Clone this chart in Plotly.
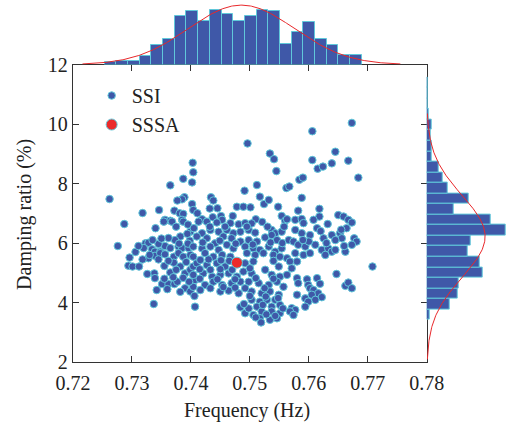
import numpy as np
import plotly.graph_objects as go

# ---------------- data ----------------
# SSI identified modes, upper / sparse region
ssi_freq_upper = [
    0.7262, 0.7673, 0.7606, 0.7496, 0.7534, 0.7541, 0.7545, 0.7645, 0.7606, 0.7615,
    0.7624, 0.7639, 0.7667, 0.7684, 0.7584, 0.7590, 0.7562, 0.7567, 0.7588, 0.7403,
    0.7404, 0.7387, 0.7402, 0.7365, 0.7512, 0.7491, 0.7517, 0.7524, 0.7532, 0.7548,
    0.7434, 0.7438, 0.7432, 0.7445, 0.7389, 0.7385, 0.7377, 0.7402, 0.7346, 0.7318,
    0.7372, 0.7381, 0.7387, 0.7404, 0.7287, 0.7356, 0.7365, 0.7354, 0.7368, 0.7385,
    0.7387, 0.7411, 0.7478, 0.7489, 0.7501, 0.7471, 0.7510, 0.7554, 0.7560, 0.7419,
    0.7427, 0.7437, 0.7451, 0.7453, 0.7444, 0.7467, 0.7481, 0.7492, 0.7582, 0.7618,
    0.7618, 0.7563, 0.7577, 0.7588, 0.7608, 0.7632, 0.7650, 0.7659, 0.7667, 0.7673,
    0.7591, 0.7521]
ssi_damp_upper = [
    7.48, 10.04, 9.76, 9.35, 9.01, 8.82, 8.42, 9.07, 8.79, 8.50,
    8.57, 8.68, 8.77, 8.20, 8.13, 8.20, 7.85, 7.90, 7.52, 8.70,
    8.38, 8.16, 8.04, 7.94, 7.95, 7.76, 7.56, 7.31, 7.45, 7.22,
    7.54, 7.43, 7.16, 7.17, 7.54, 7.47, 7.43, 7.31, 7.11, 7.01,
    7.09, 7.00, 6.98, 7.11, 6.64, 6.78, 6.75, 6.72, 6.72, 6.78,
    6.72, 7.00, 7.22, 7.22, 7.20, 6.91, 6.80, 6.91, 6.75, 6.80,
    6.72, 6.87, 6.91, 6.78, 6.69, 6.67, 6.63, 6.67, 7.09, 7.15,
    6.89, 6.80, 6.78, 6.81, 6.78, 6.64, 6.94, 6.89, 6.78, 6.69,
    6.67, 6.71]

# left cluster
ssi_freq_left = [
    0.7276, 0.7323, 0.7328, 0.7320, 0.7334, 0.7339, 0.7348, 0.7356, 0.7365, 0.7379,
    0.7385, 0.7396, 0.7398, 0.7382, 0.7399, 0.7296, 0.7294, 0.7301, 0.7312, 0.7328,
    0.7339, 0.7348, 0.7356, 0.7371, 0.7379, 0.7387, 0.7399, 0.7404, 0.7371, 0.7382,
    0.7365, 0.7390, 0.7399, 0.7404, 0.7338, 0.7339, 0.7351, 0.7362, 0.7372, 0.7377,
    0.7390, 0.7399, 0.7404, 0.7342, 0.7337, 0.7407, 0.7392, 0.7375, 0.7387, 0.7355,
    0.7326, 0.7394, 0.7373, 0.7362, 0.7345, 0.7306, 0.7311, 0.7406, 0.7382, 0.7407,
    0.7335, 0.7350, 0.7330, 0.7318, 0.7362, 0.7345, 0.7395, 0.7380, 0.7355, 0.7370,
    0.7397, 0.7360, 0.7340, 0.7375, 0.7395, 0.7405]
ssi_damp_left = [
    5.90, 5.99, 6.01, 5.83, 5.79, 5.71, 5.71, 5.90, 5.83, 5.88,
    5.83, 5.83, 6.08, 6.22, 6.38, 5.51, 5.24, 5.21, 5.21, 5.49,
    5.57, 5.66, 5.62, 5.54, 5.66, 5.54, 5.60, 5.54, 5.34, 5.21,
    5.01, 4.98, 5.10, 5.21, 4.98, 4.82, 4.62, 4.62, 4.62, 4.70,
    4.48, 4.37, 4.53, 4.42, 3.95, 3.86, 5.36, 5.10, 4.83, 5.23,
    4.96, 6.31, 6.10, 6.17, 5.97, 5.70, 5.90, 4.22, 4.36, 4.76,
    6.10, 6.15, 5.60, 5.45, 5.40, 5.45, 5.98, 5.98, 4.80, 4.85,
    4.70, 4.45, 6.50, 6.55, 6.62, 6.50]

# central cluster
ssi_freq_center = [
    0.7413, 0.7503,
    0.7419, 0.7433, 0.7447, 0.7461, 0.7472, 0.7484, 0.7498, 0.7509, 0.7537, 0.7543, 0.7554,
    0.7410, 0.7427, 0.7441, 0.7455, 0.7469, 0.7484, 0.7498, 0.7512, 0.7526, 0.7537, 0.7546,
    0.7404, 0.7419, 0.7433, 0.7447, 0.7461, 0.7472, 0.7492, 0.7506, 0.7517, 0.7532, 0.7543, 0.7554,
    0.7424, 0.7438, 0.7453, 0.7467, 0.7495, 0.7509, 0.7523, 0.7540, 0.7551,
    0.7410, 0.7427, 0.7444, 0.7458, 0.7492, 0.7506, 0.7549,
    0.7404, 0.7421, 0.7436, 0.7450, 0.7464, 0.7478, 0.7489, 0.7503, 0.7526, 0.7537, 0.7551,
    0.7424, 0.7438, 0.7453, 0.7469, 0.7484, 0.7498, 0.7515, 0.7532, 0.7546, 0.7557,
    0.7416, 0.7433, 0.7450, 0.7464, 0.7481, 0.7492, 0.7503, 0.7520, 0.7534, 0.7549,
    0.7503, 0.7517, 0.7529, 0.7543, 0.7512, 0.7537, 0.7551, 0.7484,
    0.7492, 0.7506, 0.7520, 0.7537, 0.7551, 0.7517, 0.7534, 0.7546, 0.7519,
    0.7416, 0.7430, 0.7451, 0.7465, 0.7540,
    0.7415, 0.7433, 0.7450, 0.7470, 0.7500,
    0.7415, 0.7445, 0.7475, 0.7510, 0.7540,
    0.7455, 0.7475, 0.7525,
    0.7420, 0.7449, 0.7476, 0.7505, 0.7535, 0.7555,
    0.7432, 0.7458, 0.7495, 0.7530, 0.7558,
    0.7500, 0.7527, 0.7548, 0.7522, 0.7498, 0.7528, 0.7543, 0.7510, 0.7556, 0.7490]
ssi_damp_center = [
    6.72, 6.66,
    6.33, 6.44, 6.38, 6.44, 6.33, 6.38, 6.44, 6.35, 6.44, 6.33, 6.38,
    6.22, 6.16, 5.99, 6.22, 6.16, 6.05, 6.10, 6.05, 6.19, 6.27, 6.10,
    5.88, 5.82, 5.88, 5.77, 5.94, 5.82, 5.88, 5.82, 5.77, 5.88, 5.71, 5.82,
    5.66, 5.54, 5.60, 5.54, 5.66, 5.60, 5.66, 5.60, 5.54,
    5.32, 5.26, 5.32, 5.21, 5.32, 5.38, 5.21,
    4.93, 4.98, 4.87, 4.93, 4.98, 4.87, 5.04, 4.98, 5.10, 4.93, 4.87,
    4.59, 4.70, 4.59, 4.65, 4.70, 4.70, 4.65, 4.59, 4.70, 4.53,
    4.42, 4.48, 4.37, 4.40, 4.31, 4.48, 4.37, 4.31, 4.37, 4.26,
    4.09, 4.03, 4.09, 4.09, 3.86, 3.86, 3.92, 3.84,
    3.64, 3.58, 3.70, 3.70, 3.64, 3.47, 3.42, 3.47, 3.33,
    5.43, 5.45, 5.42, 5.40, 5.40,
    5.12, 5.10, 5.12, 5.10, 5.15,
    4.80, 4.78, 4.78, 4.82, 4.80,
    4.52, 4.50, 4.48,
    6.02, 6.08, 5.98, 5.95, 6.02, 6.00,
    6.55, 6.55, 6.55, 6.55, 6.55,
    4.22, 4.20, 4.15, 3.92, 3.80, 3.60, 3.55, 3.50, 3.80, 3.95]

# right cluster
ssi_freq_right = [
    0.7614, 0.7664, 0.7577, 0.7588, 0.7602, 0.7625, 0.7639, 0.7653, 0.7656, 0.7645,
    0.7677, 0.7681, 0.7673, 0.7566, 0.7574, 0.7582, 0.7594, 0.7611, 0.7622, 0.7633,
    0.7639, 0.7645, 0.7628, 0.7662, 0.7563, 0.7577, 0.7580, 0.7591, 0.7602, 0.7568,
    0.7571, 0.7563, 0.7647, 0.7708, 0.7662, 0.7667, 0.7673, 0.7580, 0.7582, 0.7597,
    0.7599, 0.7614, 0.7619, 0.7602, 0.7608, 0.7616, 0.7622, 0.7605, 0.7594, 0.7580,
    0.7611, 0.7599, 0.7594, 0.7571, 0.7577, 0.7568, 0.7574,
    0.7600, 0.7620, 0.7655, 0.7590, 0.7630, 0.7660]
ssi_damp_right = [
    6.50, 6.50, 6.44, 6.33, 6.27, 6.16, 6.27, 6.33, 6.16, 6.10,
    6.16, 6.05, 5.94, 6.10, 6.05, 5.94, 5.88, 5.94, 5.77, 5.82,
    5.71, 5.77, 5.60, 5.71, 5.49, 5.66, 5.38, 5.60, 5.66, 5.38,
    5.15, 4.93, 4.96, 5.21, 4.56, 4.67, 4.48, 4.82, 4.65, 4.78,
    4.59, 4.82, 4.63, 4.48, 4.42, 4.31, 4.18, 4.26, 4.14, 4.26,
    4.09, 4.03, 3.86, 3.81, 3.75, 3.70, 3.58,
    6.05, 6.40, 6.45, 6.10, 6.00, 5.90]

sssa_freq = [0.7478]
sssa_damp = [5.34]

# marginal histograms
freq_bin_start = 0.72536
freq_bin_width = 0.001983
freq_counts = [2, 3, 3, 7, 16, 21, 39, 43, 35, 44, 41, 35, 39, 44, 43, 17, 26, 34, 21, 16, 8, 8]

damp_bin_start = 3.415
damp_bin_width = 0.3547
damp_counts = [3, 22, 30, 31, 54, 51, 39, 42, 76, 62, 26, 40, 20, 15, 12, 5, 5, 4, 5, 2, 1, 1, 1]

x_ticks = [0.72, 0.73, 0.74, 0.75, 0.76, 0.77, 0.78]
y_ticks = [2, 4, 6, 8, 10, 12]

# ---------------- derived ----------------
ssi_freq = ssi_freq_upper + ssi_freq_left + ssi_freq_center + ssi_freq_right
ssi_damp = ssi_damp_upper + ssi_damp_left + ssi_damp_center + ssi_damp_right


def hist_fit(start, width, counts):
    counts = np.asarray(counts, float)
    centers = start + width * (np.arange(len(counts)) + 0.5)
    n = counts.sum()
    mu = (counts * centers).sum() / n
    sd = np.sqrt((counts * (centers - mu) ** 2).sum() / n)
    xs = np.linspace(mu - 3 * sd, mu + 3 * sd, 300)
    ys = n * width / (sd * np.sqrt(2 * np.pi)) * np.exp(-0.5 * ((xs - mu) / sd) ** 2)
    return centers, xs, ys


f_cent, f_cx, f_cy = hist_fit(freq_bin_start, freq_bin_width, freq_counts)
d_cent, d_cx, d_cy = hist_fit(damp_bin_start, damp_bin_width, damp_counts)

FONT = "Liberation Serif"
BLUE = "#3F58A8"
CYAN = "#60C8DA"
RED = "#E8282B"

fig = go.Figure()
fig.add_trace(go.Scatter(
    x=ssi_freq, y=ssi_damp, mode="markers", name="SSI",
    marker=dict(size=7.5, color=BLUE, line=dict(color=CYAN, width=1))))
fig.add_trace(go.Scatter(
    x=sssa_freq, y=sssa_damp, mode="markers", name="SSSA",
    marker=dict(size=11, color="#EC2A2A", line=dict(color=CYAN, width=1))))

fig.add_trace(go.Bar(
    x=f_cent, y=freq_counts, width=freq_bin_width, xaxis="x2", yaxis="y2",
    marker=dict(color=BLUE, line=dict(color=CYAN, width=1)), showlegend=False))
fig.add_trace(go.Scatter(
    x=f_cx, y=f_cy, mode="lines", xaxis="x2", yaxis="y2",
    line=dict(color=RED, width=1), showlegend=False))

fig.add_trace(go.Bar(
    y=d_cent, x=damp_counts, width=damp_bin_width, orientation="h",
    xaxis="x3", yaxis="y3",
    marker=dict(color=BLUE, line=dict(color=CYAN, width=1)), showlegend=False))
fig.add_trace(go.Scatter(
    x=d_cy, y=d_cx, mode="lines", xaxis="x3", yaxis="y3",
    line=dict(color=RED, width=1), showlegend=False))

XD = 0.815
YD = 0.8215
axis_common = dict(
    showline=True, linecolor="#333333", linewidth=1.3, mirror="ticks",
    ticks="inside", ticklen=6, tickwidth=1, tickcolor="#333333",
    showgrid=False, zeroline=False, automargin=False,
    tickfont=dict(family=FONT, size=20, color="#222222"),
)

fig.update_layout(
    width=507, height=424,
    margin=dict(l=73, r=0, t=0, b=62, autoexpand=False),
    paper_bgcolor="white", plot_bgcolor="white",
    font=dict(family=FONT, size=20, color="#222222"),
    showlegend=True,
    legend=dict(x=0.043, y=0.79, xanchor="left", yanchor="top",
                bgcolor="rgba(0,0,0,0)", font=dict(family=FONT, size=20),
                tracegroupgap=0),
    xaxis=dict(domain=[0, XD], range=[0.72, 0.78], tickvals=x_ticks,
               ticktext=[f"{v:.2f}" for v in x_ticks], ticklabelstandoff=3,
               anchor="y", **axis_common),
    yaxis=dict(domain=[0, YD], range=[2, 12], tickvals=y_ticks,
               ticktext=[str(v) for v in y_ticks],
               anchor="x", **axis_common),
    xaxis2=dict(domain=[0, XD], range=[0.72, 0.78], anchor="y2", visible=False),
    yaxis2=dict(domain=[YD, 1], range=[0, 52.1], anchor="x2", visible=False),
    xaxis3=dict(domain=[XD, 1], range=[0, 77.2], anchor="y3", visible=False),
    yaxis3=dict(domain=[0, YD], range=[2, 12], anchor="x3", visible=False),
    bargap=0,
    annotations=[
        dict(text="Frequency (Hz)", xref="paper", yref="paper",
             x=0.400, y=-0.1326, xanchor="center", yanchor="middle",
             showarrow=False, font=dict(family=FONT, size=20, color="#222222")),
        dict(text="Damping ratio (%)", xref="paper", yref="paper",
             x=-0.1106, y=0.409, xanchor="center", yanchor="middle",
             textangle=-90, showarrow=False,
             font=dict(family=FONT, size=20, color="#222222")),
    ],
)

fig.write_html("out.html",
               config={"displayModeBar": False},
               post_script="document.body.style.margin='0px';"
                           "document.body.style.overflow='hidden';")
